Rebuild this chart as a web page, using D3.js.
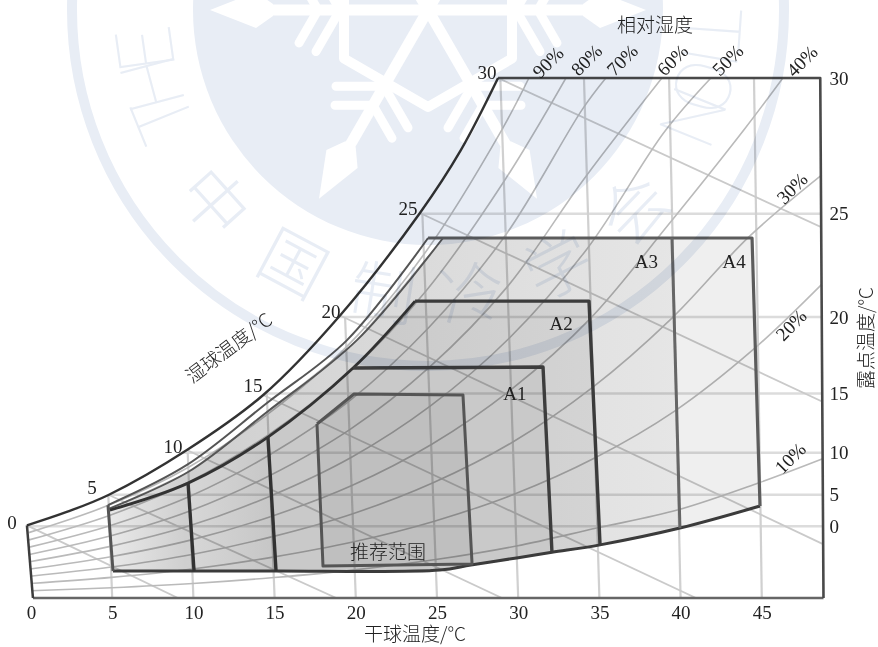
<!DOCTYPE html>
<html>
<head>
<meta charset="utf-8">
<script src="https://cdn.jsdelivr.net/npm/d3@7"></script>
<style>
  html, body { margin: 0; padding: 0; background: #fff; }
  svg { display: block; }
  text { fill: #222; font-family: "Liberation Serif", serif; font-size: 19px; }
  .cjk { font-family: "Noto Sans CJK SC", sans-serif; font-size: 19px; font-weight: 300; }
</style>
</head>
<body>
<svg id="chart" width="878" height="647"></svg>
<script>
// ============================================================
//  Data: [dry bulb, humidity ratio g/kg]
// ============================================================

const dryBulbTicks = [0, 5, 10, 15, 20, 25, 30, 35, 40, 45];
const dewPointTicks = [0, 5, 10, 15, 20, 25, 30];
const dewPointRatio = [3.75, 5.4, 7.6, 10.7, 14.7, 20.1, 27.2];

const saturation = [[-0.25, 3.8], [2.2, 4.5], [4.8, 5.4], [9.6, 7.74], [14.3, 10.62], [19.03, 14.78], [23.95, 20.14], [26.45, 23.4], [28.76, 27.2]];
const frameRest = [[48.6, 27.2], [48.8, 0], [0.12, 0]];

const dryBulbLines = [
  [[5, 0], [4.76, 5.4]], [[10, 0], [9.65, 7.6]], [[15, 0], [14.52, 10.7]], [[20, 0], [19.34, 14.7]],
  [[25, 0], [24.1, 20.1]], [[30, 0], [28.9, 27.2]], [[35, 0], [34.05, 27.2]], [[40, 0], [39.29, 27.2]], [[45, 0], [44.52, 27.2]]
];
const wetBulbLines = [
  [[-0.25, 3.8], [9.05, 0]], [[4.76, 5.4], [18.8, 0]], [[9.6, 7.74], [29, 0]], [[14.3, 10.62], [40.95, 0]],
  [[19.03, 14.78], [48.77, 2.82]], [[23.95, 20.14], [48.77, 10.25]], [[28.76, 27.2], [48.77, 19.35]]
];

const rh90 = [[-0.14, 3.42], [4.8, 4.86], [9.7, 6.84], [14.6, 9.63], [19.5, 13.2], [24.3, 18.1], [29, 24.5], [30.66, 27.2]];
const rh80 = [[-0.12, 3.04], [4.83, 4.32], [9.76, 6.08], [14.66, 8.56], [19.53, 11.76], [24.36, 16.1], [29.13, 21.8], [32.94, 27.2]];
const rh70 = [[-0.1, 2.66], [4.85, 3.78], [9.79, 5.32], [14.7, 7.49], [19.59, 10.3], [24.44, 14.1], [29.24, 19], [33.98, 25.6], [35.4, 27.2]];
const rh60 = [[-0.09, 2.28], [4.87, 3.24], [9.82, 4.56], [14.74, 6.42], [19.65, 8.82], [24.52, 12.06], [29.35, 16.3], [34.12, 22], [38.85, 27.2]];
const rh50 = [[-0.08, 1.9], [4.89, 2.7], [9.85, 3.8], [14.79, 5.35], [19.71, 7.35], [24.6, 10.05], [29.46, 13.6], [34.27, 18.3], [39.02, 24.4], [41.87, 27.2]];
const rh40 = [[-0.06, 1.52], [4.91, 2.16], [9.88, 3.04], [14.83, 4.28], [19.76, 5.88], [24.68, 8.04], [29.56, 10.9], [34.42, 14.6], [39.22, 19.5], [44, 24.6], [46.3, 27.2]];
const rh30 = [[-0.05, 1.14], [4.94, 1.62], [9.91, 2.28], [14.87, 3.21], [19.82, 4.41], [24.76, 6.03], [29.67, 8.16], [34.56, 11], [39.42, 14.6], [44.22, 18.9], [48.8, 22.2]];
const rh20 = [[-0.03, 0.76], [4.96, 1.08], [9.94, 1.52], [14.91, 2.14], [19.88, 2.94], [24.84, 4.02], [29.78, 5.44], [34.71, 7.32], [39.61, 9.76], [44.48, 13], [48.8, 16.5]];
const rh10 = [[0, 0.38], [4.98, 0.54], [9.97, 0.76], [14.96, 1.07], [19.94, 1.47], [24.92, 2.01], [29.89, 2.72], [34.85, 3.66], [39.8, 4.6], [44.74, 6], [48.8, 7.3]];
const rhCurves = [rh90, rh80, rh70, rh60, rh50, rh40, rh30, rh20, rh10];

const rhLabels = ['90%', '80%', '70%', '60%', '50%', '40%', '30%', '20%', '10%'];
const rhLabelT = [31.83, 34.2, 36.4, 39.5, 42.9, 47.47, 46.86, 46.8, 46.74];
const rhLabelW = [28.03, 28.14, 28.14, 28.14, 28.14, 28.09, 21.44, 14.28, 7.32];

const wetLabels = ['0', '5', '10', '15', '20', '25', '30'];
const wetLabelT = [-1.17, 3.76, 8.74, 13.67, 18.47, 23.21, 28.08];
const wetLabelW = [3.97, 5.8, 7.95, 11.14, 15, 20.39, 27.5];

// boundaries of the regions
const curveOuter = [[4.74, 4.86], [9.6, 6.96], [14.53, 10.2], [19.46, 13.49], [24.45, 18.83]];
const curveInner = [[4.74, 4.65], [9.67, 6.59], [14.53, 9.73], [20.07, 13.49], [25.37, 18.83]];
const curveLower = [[4.86, 4.6], [9.67, 6.01], [14.59, 8.42], [19.83, 12.03], [23.65, 15.53]];
const floorLine = [[5.05, 1.41], [10.04, 1.41], [15.09, 1.41], [25.18, 1.46], [27.09, 1.73], [30, 2.11], [32.08, 2.39], [35.04, 2.78], [39.96, 3.66], [44.89, 4.81]];

const regionA4 = [[5.05, 1.41], [4.74, 4.65], [9.67, 6.59], [14.53, 9.73], [20.07, 13.49], [25.37, 18.83], [44.4, 18.83], [44.89, 4.81], [39.96, 3.66], [35.04, 2.78], [32.08, 2.39], [30, 2.11], [27.09, 1.73], [25.18, 1.46]];
const regionA3 = [[5.05, 1.41], [4.74, 4.65], [9.67, 6.59], [14.53, 9.73], [20.07, 13.49], [25.37, 18.83], [39.47, 18.83], [39.96, 3.66], [35.04, 2.78], [32.08, 2.39], [30, 2.11], [27.09, 1.73], [25.18, 1.46]];
const regionA2 = [[10.04, 1.41], [9.67, 6.01], [14.59, 8.42], [19.83, 12.03], [23.65, 15.53], [34.36, 15.53], [35.04, 2.78], [32.08, 2.39], [30, 2.11], [27.09, 1.73], [25.18, 1.46]];
const regionA1 = [[15.09, 1.41], [14.59, 8.42], [19.83, 12.03], [31.53, 12.08], [32.08, 2.39], [30, 2.11], [27.09, 1.73], [25.18, 1.46]];
const recommended = [[17.61, 9.1], [19.89, 10.67], [26.6, 10.62], [27.16, 1.78], [17.98, 1.67]];
const regionFills = [regionA4, regionA3, regionA2, regionA1, recommended];

const topA4 = [[24.45, 18.83], [44.4, 18.83], [44.89, 4.81]];
const rightA3 = [[39.47, 18.83], [39.96, 3.66]];
const boxA2 = [[23.65, 15.53], [34.36, 15.53], [35.04, 2.78]];
const boxA1 = [[19.83, 12.03], [31.53, 12.08], [32.08, 2.39]];
const leftA4 = [[4.74, 4.86], [5.05, 1.41]];
const leftA2 = [[9.67, 6.01], [10.04, 1.41]];
const leftA1 = [[14.59, 8.42], [15.09, 1.41]];

const regionLabels = ['A1', 'A2', 'A3', 'A4'];
const regionLabelT = [29.8, 32.65, 37.9, 43.3];
const regionLabelW = [10.7, 14.37, 17.63, 17.63];

const watermarkCjk = ['中', '国', '制', '冷', '学', '会'];
const watermarkCjkAngle = [48, 28, 9, -9, -27, -46];
const watermarkLatin = ['T', 'H', 'E', 'T', 'I', 'O', 'N'];
const watermarkLatinAngle = [-112, -105, -98, 94, 99.5, 105.5, 112];

// ============================================================
//  Scales
// ============================================================

const svg = d3.select('#chart');

const x = d3.scaleLinear().domain([0, 48.8]).range([31, 823.5]);
const y = d3.scaleLinear().domain([0, 27.2]).range([598, 78]);

const straight = d3.line().x(d => x(d[0])).y(d => y(d[1]));
const smooth = d3.line().x(d => x(d[0])).y(d => y(d[1])).curve(d3.curveCatmullRom.alpha(0.5));

const defs = svg.append('defs');
defs.append('clipPath').attr('id', 'frame-clip')
  .append('path').attr('d', straight(saturation.concat(frameRest)) + 'Z');
defs.append('filter').attr('id', 'soft')
  .append('feGaussianBlur').attr('stdDeviation', 0.6);

// fills get darker from the left edge inwards
function shadeX(id, stops) {
  const g = defs.append('linearGradient').attr('id', id)
    .attr('gradientUnits', 'userSpaceOnUse')
    .attr('x1', x(0)).attr('x2', x(48.8)).attr('y1', 0).attr('y2', 0);
  stops.forEach(([at, color]) => {
    g.append('stop').attr('offset', at / 48.8).attr('stop-color', color);
  });
}
shadeX('a3-shade', [[5, '#e8e8e8'], [9.5, '#cfcfcf'], [20, '#d8d8d8'], [40, '#e6e6e6']]);
shadeX('a2-shade', [[10, '#d6d6d6'], [15, '#c6c6c6'], [35, '#d4d4d4']]);

// ============================================================
//  Regions and grid
// ============================================================

const plot = svg.append('g').attr('filter', 'url(#soft)');

plot.selectAll('.region')
  .data(regionFills)
  .join('path')
  .attr('class', 'region')
  .attr('d', d => straight(d) + 'Z')
  .attr('fill', (d, i) => ['#efefef', 'url(#a3-shade)', 'url(#a2-shade)', '#c9c9c9', '#bfbfbf'][i]);

const grid = plot.append('g').attr('clip-path', 'url(#frame-clip)').style('mix-blend-mode', 'multiply');

grid.selectAll('.dew')
  .data(dewPointRatio)
  .join('line')
  .attr('class', 'dew')
  .attr('x1', x(0) - 10).attr('x2', x(48.8) + 5)
  .attr('y1', d => y(d)).attr('y2', d => y(d))
  .attr('stroke', '#dcdcdc').attr('stroke-width', 2.5);

grid.selectAll('.dry')
  .data(dryBulbLines)
  .join('path')
  .attr('class', 'dry')
  .attr('d', straight)
  .attr('fill', 'none').attr('stroke', '#d0d0d0').attr('stroke-width', 2.2);

grid.selectAll('.wet')
  .data(wetBulbLines)
  .join('path')
  .attr('class', 'wet')
  .attr('d', straight)
  .attr('fill', 'none').attr('stroke', '#cacaca').attr('stroke-width', 1.8);

grid.selectAll('.rh')
  .data(rhCurves)
  .join('path')
  .attr('class', 'rh')
  .attr('d', smooth)
  .attr('fill', 'none').attr('stroke', '#bababa').attr('stroke-width', 1.6);

// ============================================================
//  Outlines
// ============================================================

function outline(data, gen, color, width) {
  plot.append('path').datum(data)
    .attr('d', gen)
    .attr('fill', 'none')
    .attr('stroke', color)
    .attr('stroke-width', width)
    .attr('stroke-linejoin', 'round');
}

outline(frameRest.slice(1), straight, '#666', 2.4);
outline([frameRest[2], saturation[0]], straight, '#3c3c3c', 2.5);
outline([saturation[8], frameRest[0], frameRest[1]], straight, '#4a4a4a', 2.6);
outline(saturation, smooth, '#333', 2.4);
outline(curveOuter, smooth, '#555', 2);
outline(curveInner, smooth, '#555', 2);
outline(curveLower, smooth, '#333', 2.8);
outline(floorLine, smooth, '#3a3a3a', 3);
outline(topA4, straight, '#5c5c5c', 3.2);
outline(rightA3, straight, '#666', 3);
outline(boxA2, straight, '#3a3a3a', 3.4);
outline(boxA1, straight, '#3c3c3c', 3.4);
outline(leftA4, straight, '#555', 3);
outline(leftA2, straight, '#333', 3.4);
outline(leftA1, straight, '#333', 3.4);
outline(recommended.concat([recommended[0]]), straight, '#555', 3);

// ============================================================
//  Axes and labels
// ============================================================

const bottomAxis = d3.axisBottom(x).tickValues(dryBulbTicks).tickSize(0).tickPadding(8).tickFormat(d3.format('d'));
const rightAxis = d3.axisRight(y).tickValues(dewPointRatio).tickSize(0).tickPadding(6)
  .tickFormat((d, i) => dewPointTicks[i]);

svg.append('g').attr('transform', `translate(0,${y(0)})`).call(bottomAxis)
  .call(g => g.select('.domain').remove())
  .selectAll('text').attr('fill', '#222').style('font-size', '19px').style('font-family', '"Liberation Serif", serif');
svg.append('g').attr('transform', `translate(${x(48.8)},0)`).call(rightAxis)
  .call(g => g.select('.domain').remove())
  .selectAll('text').attr('fill', '#222').style('font-size', '19px').style('font-family', '"Liberation Serif", serif');

svg.selectAll('.wet-label')
  .data(wetLabels)
  .join('text')
  .attr('class', 'wet-label')
  .attr('x', (d, i) => x(wetLabelT[i]))
  .attr('y', (d, i) => y(wetLabelW[i]))
  .attr('dy', '0.35em').attr('text-anchor', 'middle')
  .text(d => d);

svg.selectAll('.rh-label')
  .data(rhLabels)
  .join('text')
  .attr('class', 'rh-label')
  .attr('text-anchor', 'middle').attr('dy', '0.35em')
  .attr('transform', (d, i) => `translate(${x(rhLabelT[i])},${y(rhLabelW[i])}) rotate(-45)`)
  .text(d => d);

svg.selectAll('.region-label')
  .data(regionLabels)
  .join('text')
  .attr('class', 'region-label')
  .attr('x', (d, i) => x(regionLabelT[i]))
  .attr('y', (d, i) => y(regionLabelW[i]))
  .attr('dy', '0.35em').attr('text-anchor', 'middle')
  .text(d => d);

function caption(str, px, py, rot) {
  svg.append('text').attr('class', 'cjk')
    .attr('text-anchor', 'middle').attr('dy', '0.35em')
    .attr('transform', `translate(${px},${py}) rotate(${rot})`)
    .text(str);
}

caption('相对湿度', 655, 25, 0);
caption('干球温度/°C', 415, 634, 0);
caption('露点温度/°C', 866, 338, -90);
caption('湿球温度/°C', 229, 348, -37);
caption('推荐范围', 388, 552, 0);

// ============================================================
//  Watermark, laid over everything
// ============================================================

const mark = svg.append('g')
  .attr('transform', 'translate(428,10)')
  .style('mix-blend-mode', 'multiply')
  .style('pointer-events', 'none');

const markBlue = '#e8edf5';

mark.append('circle').attr('r', 356).attr('fill', 'none').attr('stroke', markBlue).attr('stroke-width', 10);
mark.append('circle').attr('r', 235).attr('fill', markBlue);

const hexagon = d3.range(6).map(i => {
  const a = (90 + 60 * i) * Math.PI / 180;
  return [97 * Math.cos(a), 97 * Math.sin(a)];
});
mark.append('path').attr('d', d3.line()(hexagon) + 'Z')
  .attr('fill', 'none').attr('stroke', '#fff').attr('stroke-width', 10).attr('stroke-linejoin', 'round');

d3.range(6).forEach(i => {
  const arm = mark.append('g').attr('transform', `rotate(${60 * i})`);
  arm.append('line').attr('x2', 165).attr('stroke', '#fff').attr('stroke-width', 11);
  arm.append('path').attr('d', 'M155,-6L172,-18L218,0L172,18L155,6Z').attr('fill', '#fff');
  [[88, 48], [110, 38]].forEach(([at, len]) => {
    [-1, 1].forEach(side => {
      const a = side * Math.PI / 3;
      arm.append('line')
        .attr('x1', at).attr('y1', 0)
        .attr('x2', at + len * Math.cos(a)).attr('y2', len * Math.sin(a))
        .attr('stroke', '#fff').attr('stroke-width', 9).attr('stroke-linecap', 'round');
    });
  });
});

mark.selectAll('.wm-cjk')
  .data(watermarkCjk)
  .join('text')
  .attr('class', 'wm-cjk')
  .attr('transform', (d, i) => `rotate(${watermarkCjkAngle[i]}) translate(0,288)`)
  .attr('text-anchor', 'middle').attr('dy', '0.35em')
  .style('font-family', '"Noto Sans CJK SC", sans-serif').style('font-size', '66px').style('font-weight', 300)
  .style('fill', markBlue)
  .text(d => d);

mark.selectAll('.wm-latin')
  .data(watermarkLatin)
  .join('text')
  .attr('class', 'wm-latin')
  .attr('transform', (d, i) => `rotate(${watermarkLatinAngle[i]}) translate(0,-258)`)
  .attr('text-anchor', 'middle')
  .style('font-family', 'Roboto, Lato, sans-serif').style('font-weight', 100).style('font-size', '78px')
  .style('fill', markBlue)
  .text(d => d);
</script>
</body>
</html>
